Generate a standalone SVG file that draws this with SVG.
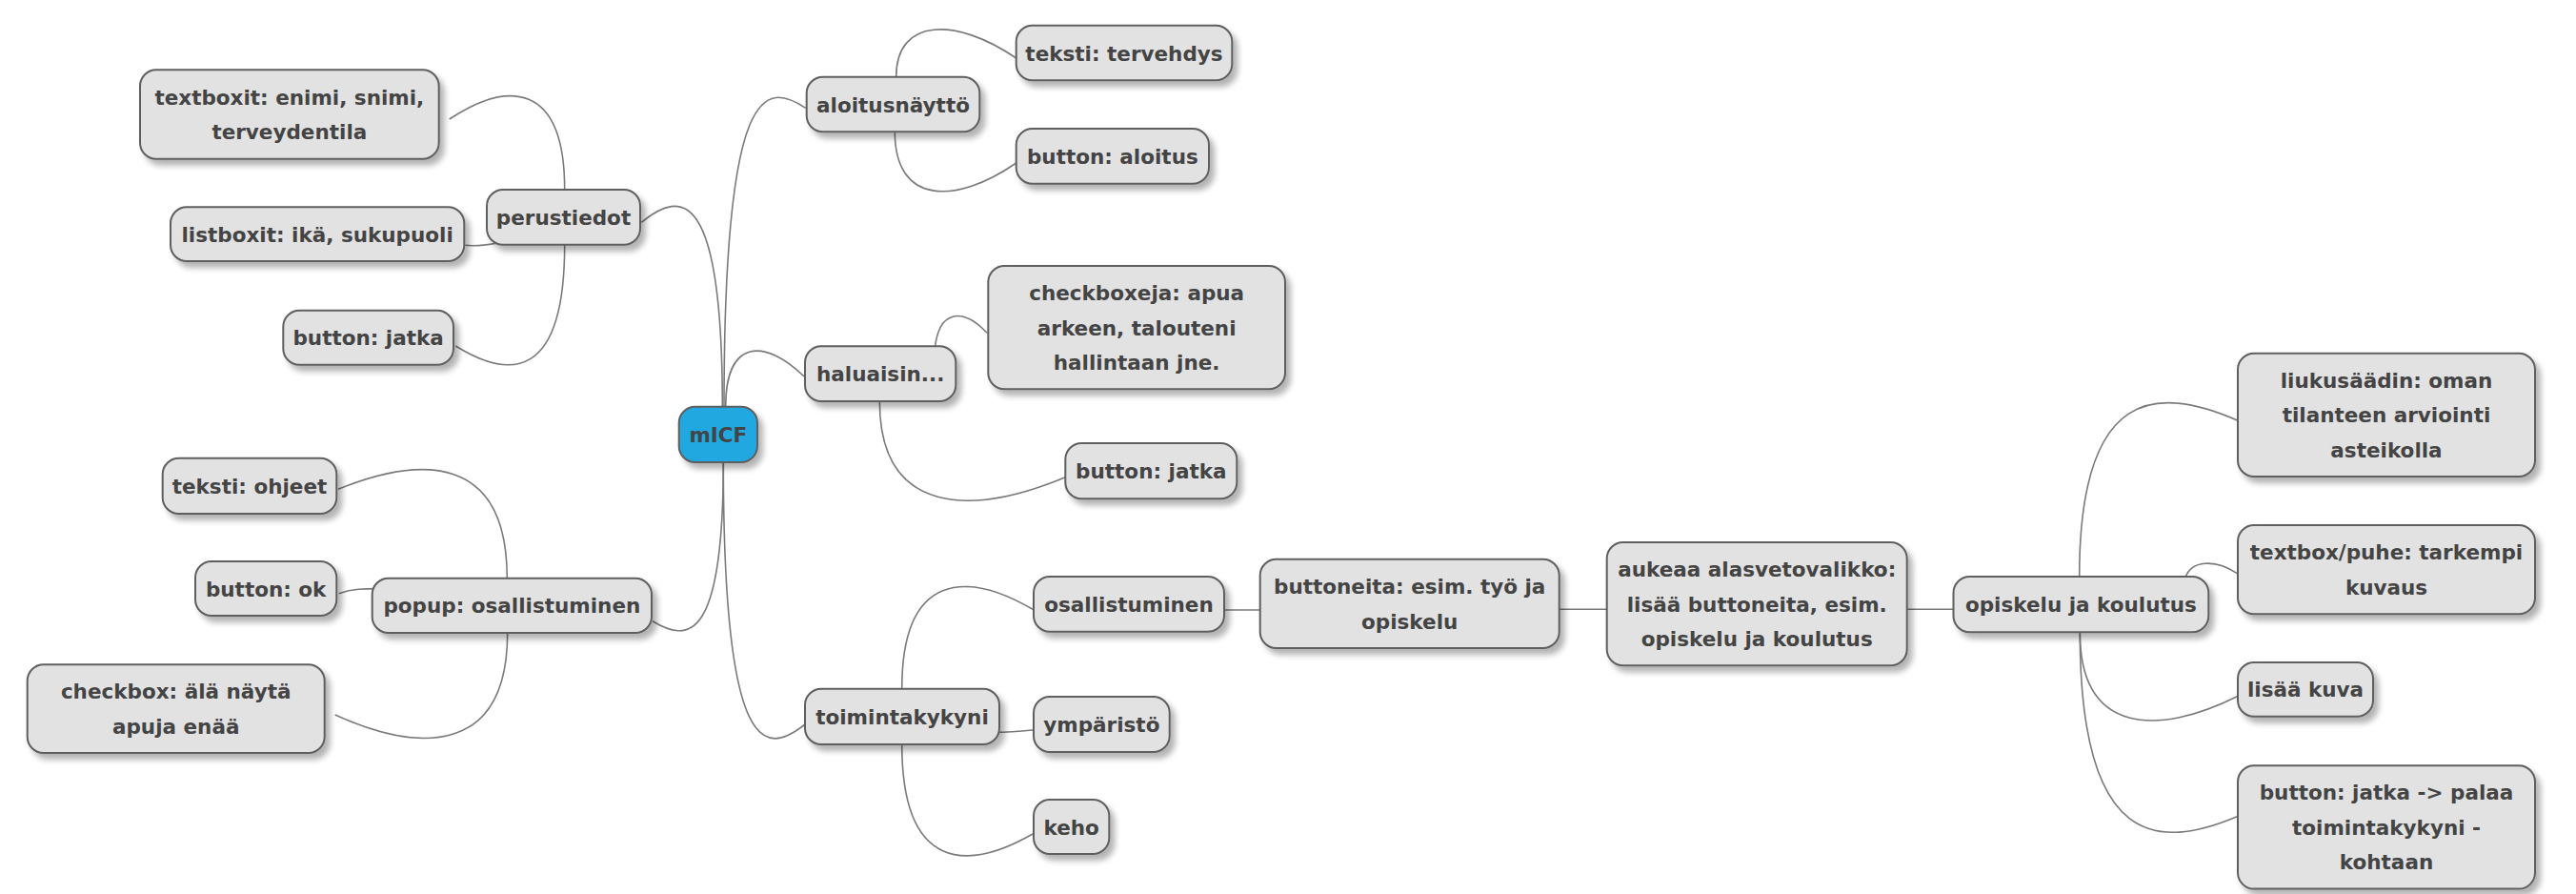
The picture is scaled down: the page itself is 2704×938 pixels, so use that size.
<svg xmlns="http://www.w3.org/2000/svg" width="2704" height="938" viewBox="0 0 2704 938">
<defs>
<filter id="sh" x="-10%" y="-20%" width="130%" height="160%">
<feGaussianBlur in="SourceAlpha" stdDeviation="3"/>
<feOffset dx="5" dy="6" result="o"/>
<feComponentTransfer><feFuncA type="linear" slope="0.3"/></feComponentTransfer>
<feMerge><feMergeNode/><feMergeNode in="SourceGraphic"/></feMerge>
</filter>
<style>
.b{fill:#E2E2E2;stroke:#5F5F5F;stroke-width:2;filter:url(#sh)}
.r{fill:#20A8E0;stroke:#5F5F5F;stroke-width:2;filter:url(#sh)}
.t{font-family:"DejaVu Sans","Liberation Sans",sans-serif;font-weight:bold;font-size:21.5px;fill:#444444;text-anchor:middle}
.c{fill:none;stroke:#7A7A7A;stroke-width:1.6}
</style>
</defs>
<rect width="2704" height="938" fill="#FFFFFF"/>
<g id="connectors">
<path class="c" d="M758.3,436 L758.3,426.7 C758.3,198.3 715.8,198.3 673.3,233.3"/>
<path class="c" d="M759.3,476 L759.3,485 C759.3,674.2 722.2,674.2 685,651.7"/>
<path class="c" d="M760,436 L760,426.7 C760,85.3 802.9,85.3 845.7,113.3"/>
<path class="c" d="M761.7,436 L761.7,426.7 C761.7,355 802.9,355 844,395"/>
<path class="c" d="M759.3,476 L759.3,485 C759.3,794 802.2,794 845,760"/>
<path class="c" d="M592.7,199 C592.7,85 532.2,85 471.7,125"/>
<path class="c" d="M540,252 C520,256 500,259 488.3,257.3"/>
<path class="c" d="M592.7,256.7 C592.7,398.5 535.5,398.5 478.3,363"/>
<path class="c" d="M532.3,606.7 C532.3,477.3 443.7,477.3 355,513.3"/>
<path class="c" d="M405,617.7 C380,617.5 370,617.8 355.7,622.7"/>
<path class="c" d="M532.7,664 C532.7,791 442.2,791 351.7,750"/>
<path class="c" d="M940.7,80.7 C940.7,18 1003.7,18 1066.7,61"/>
<path class="c" d="M939.3,138.3 C939.3,215 1003,215 1066.7,171"/>
<path class="c" d="M981.2,367 C985,325 1010,322 1036,349.3"/>
<path class="c" d="M923.3,421 C923.3,541.3 1020.8,541.3 1118.3,500.7"/>
<path class="c" d="M946.7,722.7 C946.7,599.4 1015.4,599.4 1084,639.3"/>
<path class="c" d="M1040,768.4 C1060,768.6 1070,767.5 1084,766"/>
<path class="c" d="M946.7,781 C946.7,914.2 1015.4,914.2 1084,875"/>
<path class="c" d="M1285,640 L1322.7,640"/>
<path class="c" d="M1636.7,639.3 L1686.7,639.3"/>
<path class="c" d="M2001.7,639.3 L2050,639.3"/>
<path class="c" d="M2182.7,605 C2182.7,404.5 2265.5,404.5 2348.3,441"/>
<path class="c" d="M2294,606 C2300,588 2325,586 2348.3,601.7"/>
<path class="c" d="M2183.3,663.3 C2183.3,771.7 2265.8,771.7 2348.3,730.7"/>
<path class="c" d="M2183.3,663.3 C2183.3,891.2 2265.8,891.2 2348.3,856.7"/>
</g>
<g id="n-root"><rect class="r" x="712.7" y="426.7" width="82.3" height="58.3" rx="17"/><text class="t" x="753.85" y="463.85">mICF</text></g>
<g id="n-perustiedot"><rect class="b" x="511" y="199" width="161" height="57.7" rx="17"/><text class="t" x="591.5" y="235.85">perustiedot</text></g>
<g id="n-textboxit"><rect class="b" x="147" y="73.3" width="313.7" height="93.4" rx="17"/><text class="t" x="303.85" y="109.75">textboxit: enimi, snimi,</text><text class="t" x="303.85" y="146.25">terveydentila</text></g>
<g id="n-listboxit"><rect class="b" x="179" y="217.3" width="308.3" height="56.7" rx="17"/><text class="t" x="333.15" y="253.65">listboxit: ikä, sukupuoli</text></g>
<g id="n-jatka1"><rect class="b" x="297.3" y="325.7" width="178.7" height="57" rx="17"/><text class="t" x="386.65" y="362.2">button: jatka</text></g>
<g id="n-popup"><rect class="b" x="390.7" y="606.7" width="293.3" height="57.3" rx="17"/><text class="t" x="537.35" y="643.35">popup: osallistuminen</text></g>
<g id="n-ohjeet"><rect class="b" x="170.7" y="480.7" width="182.6" height="58.3" rx="17"/><text class="t" x="262" y="517.85">teksti: ohjeet</text></g>
<g id="n-ok"><rect class="b" x="205" y="589" width="148.3" height="57" rx="17"/><text class="t" x="279.15" y="625.5">button: ok</text></g>
<g id="n-checkbox"><rect class="b" x="28.7" y="697.3" width="312" height="92.7" rx="17"/><text class="t" x="184.7" y="733.4">checkbox: älä näytä</text><text class="t" x="184.7" y="769.9">apuja enää</text></g>
<g id="n-aloitus"><rect class="b" x="846.7" y="80.7" width="181.6" height="57.6" rx="17"/><text class="t" x="937.5" y="117.5">aloitusnäyttö</text></g>
<g id="n-tervehdys"><rect class="b" x="1066.7" y="26.7" width="226.6" height="57.6" rx="17"/><text class="t" x="1180" y="63.5">teksti: tervehdys</text></g>
<g id="n-aloitusbtn"><rect class="b" x="1066.7" y="135" width="202.3" height="57.7" rx="17"/><text class="t" x="1167.85" y="171.85">button: aloitus</text></g>
<g id="n-haluaisin"><rect class="b" x="845" y="363.3" width="158.3" height="57.7" rx="17"/><text class="t" x="924.15" y="400.15">haluaisin...</text></g>
<g id="n-checkboxeja"><rect class="b" x="1037.3" y="279" width="311.7" height="129.3" rx="17"/><text class="t" x="1193.15" y="315.15">checkboxeja: apua</text><text class="t" x="1193.15" y="351.65">arkeen, talouteni</text><text class="t" x="1193.15" y="388.15">hallintaan jne.</text></g>
<g id="n-jatka2"><rect class="b" x="1118.3" y="465" width="180" height="58.3" rx="17"/><text class="t" x="1208.3" y="502.15">button: jatka</text></g>
<g id="n-toimintakykyni"><rect class="b" x="845" y="722.7" width="204" height="58.3" rx="17"/><text class="t" x="947" y="759.85">toimintakykyni</text></g>
<g id="n-osallistuminen"><rect class="b" x="1085" y="605" width="200" height="57.7" rx="17"/><text class="t" x="1185" y="641.85">osallistuminen</text></g>
<g id="n-ymparisto"><rect class="b" x="1085" y="731" width="142.7" height="58" rx="17"/><text class="t" x="1156.35" y="768">ympäristö</text></g>
<g id="n-keho"><rect class="b" x="1085" y="839" width="79.3" height="57" rx="17"/><text class="t" x="1124.65" y="875.5">keho</text></g>
<g id="n-buttoneita"><rect class="b" x="1322.7" y="586.7" width="314" height="93.3" rx="17"/><text class="t" x="1479.7" y="623.1">buttoneita: esim. työ ja</text><text class="t" x="1479.7" y="659.6">opiskelu</text></g>
<g id="n-aukeaa"><rect class="b" x="1686.7" y="569" width="315" height="129.3" rx="17"/><text class="t" x="1844.2" y="605.15">aukeaa alasvetovalikko:</text><text class="t" x="1844.2" y="641.65">lisää buttoneita, esim.</text><text class="t" x="1844.2" y="678.15">opiskelu ja koulutus</text></g>
<g id="n-opiskelu"><rect class="b" x="2050.5" y="605" width="267.8" height="58.3" rx="17"/><text class="t" x="2184.4" y="642.15">opiskelu ja koulutus</text></g>
<g id="n-liukusaadin"><rect class="b" x="2349" y="370.7" width="312" height="129.3" rx="17"/><text class="t" x="2505" y="406.85">liukusäädin: oman</text><text class="t" x="2505" y="443.35">tilanteen arviointi</text><text class="t" x="2505" y="479.85">asteikolla</text></g>
<g id="n-textbox"><rect class="b" x="2349" y="551" width="312" height="93.3" rx="17"/><text class="t" x="2505" y="587.4">textbox/puhe: tarkempi</text><text class="t" x="2505" y="623.9">kuvaus</text></g>
<g id="n-lisaa"><rect class="b" x="2349" y="695" width="142" height="56.7" rx="17"/><text class="t" x="2420" y="731.35">lisää kuva</text></g>
<g id="n-jatka3"><rect class="b" x="2349" y="803.3" width="312" height="129.3" rx="17"/><text class="t" x="2505" y="839.45">button: jatka -&gt; palaa</text><text class="t" x="2505" y="875.95">toimintakykyni -</text><text class="t" x="2505" y="912.45">kohtaan</text></g>
</svg>
